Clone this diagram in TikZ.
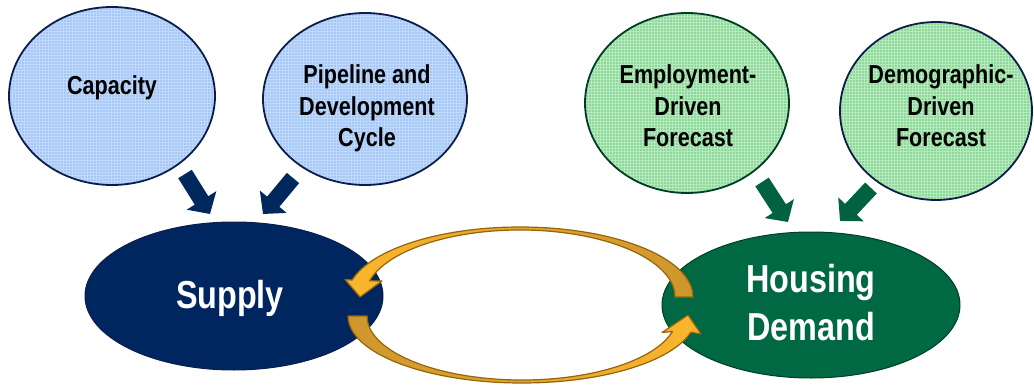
\documentclass[tikz,border=0pt]{standalone}
\usepackage{fontspec}
\setmainfont{Liberation Sans}[FakeStretch=0.83]
\usetikzlibrary{shapes.geometric,arrows.meta,patterns}
\definecolor{lblue}{RGB}{164,199,246}
\definecolor{lbluegrid}{RGB}{192,216,251}
\definecolor{lgreen}{RGB}{140,216,152}
\definecolor{lgreengrid}{RGB}{182,234,190}
\definecolor{navy}{RGB}{0,38,96}
\definecolor{navyline}{RGB}{12,30,72}
\definecolor{navyarrow}{RGB}{0,40,92}
\definecolor{dgreen}{RGB}{0,104,66}
\definecolor{dgreenline}{RGB}{0,62,36}
\definecolor{greenarrow}{RGB}{0,98,62}
\definecolor{gold}{RGB}{250,182,45}
\definecolor{ochre}{RGB}{205,150,45}
\definecolor{goldline}{RGB}{150,100,10}
\begin{document}
\begin{tikzpicture}[x=1pt,y=-1pt,
  smallell/.style={ellipse, inner sep=0pt, line width=1.8pt},
  blueell/.style={smallell, draw=navyline, preaction={fill=lblue}, pattern=grid, pattern color=lbluegrid},
  greenell/.style={smallell, preaction={fill=lgreen}, pattern=grid, pattern color=lgreengrid},
  bigell/.style={ellipse, inner sep=0pt, line width=1pt},
  smalltext/.style={font=\fontsize{26}{31.5}\selectfont\bfseries, align=center, inner sep=0pt, anchor=base},
  bigtext/.style={font=\fontsize{39}{48}\selectfont\bfseries, align=center, inner sep=0pt, anchor=base, text=white},
  navyblock/.style={line width=16pt, color=navyarrow, -{Triangle[width=34pt,length=16pt]}},
  greenblock/.style={line width=16pt, color=greenarrow, -{Triangle[width=34pt,length=16pt]}},
  goldarrow/.style={draw=goldline, line width=1.2pt, line join=round}
]
\useasboundingbox (0,0) rectangle (1034,385);

% straight block arrows (behind the ellipses)
\coordinate (a1s) at (185,174); \coordinate (a1e) at (210,214);
\coordinate (a2s) at (293,178); \coordinate (a2e) at (263,214);
\coordinate (a3s) at (762,182); \coordinate (a3e) at (788,222);
\coordinate (a4s) at (871,188); \coordinate (a4e) at (840,221);
\draw[navyblock] (a1s) -- (a1e);
\draw[navyblock] (a2s) -- (a2e);
\draw[greenblock] (a3s) -- (a3e);
\draw[greenblock] (a4s) -- (a4e);

% small ellipses
\node[blueell, minimum width=206pt, minimum height=178pt] (cap) at (112,96) {};
\node[blueell, minimum width=204pt, minimum height=172pt] (pipe) at (365,99) {};
\node[greenell, draw=dgreenline, minimum width=204pt, minimum height=180pt] (emp) at (687,103) {};
\node[greenell, draw=navyline, minimum width=192pt, minimum height=178pt] (demo) at (936,111) {};

\node[smalltext] (capT) at (112,95) {Capacity};
\node[smalltext] (pipeT) at (367,147) {Pipeline and\\Development\\Cycle};
\node[smalltext] (empT) at (688,147) {Employment-\\Driven\\Forecast};
\node[smalltext] (demoT) at (941,147) {Demographic-\\Driven\\Forecast};

% big ellipses
\node[bigell, fill=navy, draw=navyline, minimum width=298pt, minimum height=148pt] (sup) at (234,296) {};
\node[bigell, fill=dgreen, draw=dgreenline, minimum width=298pt, minimum height=146pt] (dem) at (811,305) {};
\node[bigtext] (supT) at (230,308) {Supply};
\node[bigtext] (demT) at (811,340) {Housing\\Demand};

% curved golden arrows
\draw[goldarrow, left color=gold, right color=ochre]
  (693,297) arc[start angle=0, end angle=-166, x radius=173, y radius=70]
  -- (345,279.5) -- (360,297) -- (382,281)
  -- ([shift={(520,297)}]-166:155 and 67)
  arc[start angle=-166, end angle=0, x radius=155, y radius=67] -- cycle;
\draw[goldarrow, left color=ochre, right color=gold]
  (348,316) arc[start angle=180, end angle=14, x radius=174, y radius=67]
  -- (701,334) -- (688,315) -- (662,332.5)
  -- ([shift={(522,316)}]14:155 and 64)
  arc[start angle=14, end angle=180, x radius=155, y radius=64] -- cycle;
\end{tikzpicture}
\end{document}
